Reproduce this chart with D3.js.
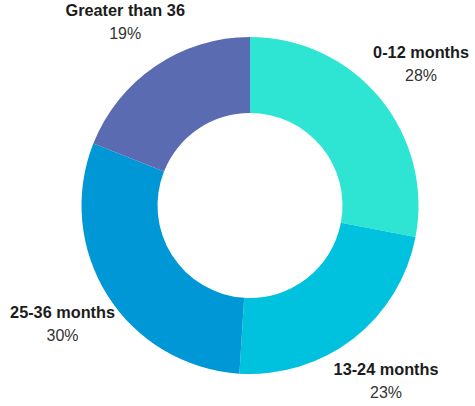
<!DOCTYPE html>
<html>
<head>
<meta charset="utf-8">
<script src="https://cdn.jsdelivr.net/npm/d3@7"></script>
<style>
html,body{margin:0;padding:0;background:#fff;}
svg{display:block;}
</style>
</head>
<body>
<svg id="chart" width="475" height="406"></svg>
<script>
const categories = ["0-12 months", "13-24 months", "25-36 months", "Greater than 36"];
const values = [28, 23, 30, 19];
const percentLabels = ["28%", "23%", "30%", "19%"];
const colors = ["#2ee5d4", "#00c2de", "#0097d6", "#5a6bb1"];

const data = categories.map((c, i) => ({category: c, value: values[i], pct: percentLabels[i], color: colors[i]}));

const width = 475, height = 406;
const cx = 250, cy = 205.5;
const outerR = 168.5, innerR = 92.5, labelR = 222;

const svg = d3.select("#chart");
const g = svg.append("g").attr("transform", `translate(${cx},${cy})`);

const pie = d3.pie().value(d => d.value).sort(null);
const arc = d3.arc().innerRadius(innerR).outerRadius(outerR);
const labelArc = d3.arc().innerRadius(labelR).outerRadius(labelR);

const arcs = pie(data);

g.selectAll("path.slice")
  .data(arcs)
  .join("path")
  .attr("class", "slice")
  .attr("d", arc)
  .attr("fill", d => d.data.color);

const labels = g.selectAll("g.label")
  .data(arcs)
  .join("g")
  .attr("class", "label")
  .attr("transform", d => {
    const [x, y] = labelArc.centroid(d);
    return `translate(${x},${y})`;
  });

labels.append("text")
  .attr("text-anchor", "middle")
  .attr("y", -6)
  .attr("font-family", "'Liberation Sans', Arial, sans-serif")
  .attr("font-weight", "bold")
  .attr("font-size", 16.3)
  .attr("fill", "#1c1c1c")
  .text(d => d.data.category);

labels.append("text")
  .attr("text-anchor", "middle")
  .attr("y", 17)
  .attr("font-family", "'Liberation Sans', Arial, sans-serif")
  .attr("font-size", 16)
  .attr("fill", "#333")
  .text(d => d.data.pct);
</script>
</body>
</html>
